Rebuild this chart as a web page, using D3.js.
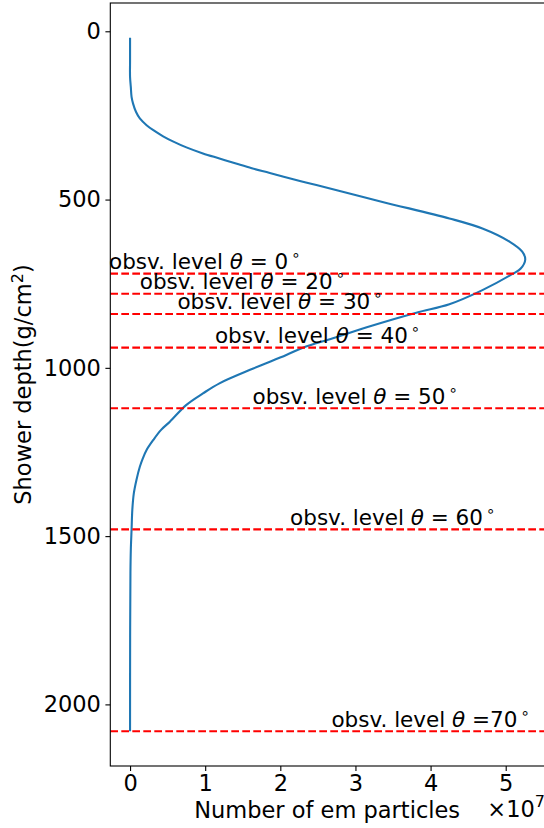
<!DOCTYPE html>
<html>
<head>
<meta charset="utf-8">
<script src="https://cdn.jsdelivr.net/npm/d3@7"></script>
<style>
  html, body { margin: 0; padding: 0; background: #fff; }
  svg { display: block; font-family: "DejaVu Sans", sans-serif; }
</style>
</head>
<body>
<svg id="chart" width="544" height="828"></svg>
<script>
// Longitudinal profile: shower depth (g/cm^2) vs number of em particles (x 10^7)
const depth = [19, 86, 136, 165, 195, 215, 240, 259, 279, 294, 312, 327, 345, 363, 378, 393, 407, 421, 442, 457, 507, 556, 586, 625, 655, 678, 705, 721, 769, 811, 836, 880, 912, 940, 962, 1002, 1046, 1076, 1110, 1160, 1185, 1214, 1244, 1269, 1294, 1333, 1373, 1422, 1482, 1541, 1610, 1800, 2080];
const particles = [0.0, 0.0, 0.0, 0.01, 0.02, 0.04, 0.08, 0.13, 0.22, 0.31, 0.44, 0.57, 0.75, 0.97, 1.19, 1.41, 1.62, 1.86, 2.21, 2.48, 3.36, 4.25, 4.69, 5.05, 5.22, 5.26, 5.20, 5.09, 4.69, 4.25, 3.81, 3.14, 2.70, 2.30, 2.08, 1.64, 1.19, 0.97, 0.75, 0.53, 0.41, 0.31, 0.22, 0.17, 0.13, 0.085, 0.05, 0.03, 0.02, 0.01, 0.005, 0.001, 0.0];

// Observation levels for each zenith angle
const levelAngles = [0, 20, 30, 40, 50, 60, 70];
const levelDepths = [720, 780, 840, 940, 1120, 1480, 2080];
const levelLabelX = [-0.28, 0.13, 0.63, 1.13, 1.63, 2.13, 2.68];
const levelEq = [" = ", " = ", " = ", " = ", " = ", " = ", " ="];

const xTicks = [0, 1, 2, 3, 4, 5];
const yTicks = [0, 500, 1000, 1500, 2000];

const svg = d3.select("#chart");
const plotLeft = 110.3, plotRight = 545, plotTop = 3, plotBottom = 766;

// Data limits with 5% margins on each side
const xMin = 0, xMax = d3.max(particles);
const yMin = d3.min(depth), yMax = d3.max(levelDepths.concat(depth));
const xPad = (xMax - xMin) * 0.05, yPad = (yMax - yMin) * 0.05;

const x = d3.scaleLinear().domain([xMin - xPad, xMax + xPad]).range([plotLeft, plotRight]);
const y = d3.scaleLinear().domain([yMin - yPad, yMax + yPad]).range([plotTop, plotBottom]);

svg.append("defs").append("clipPath").attr("id", "plotclip")
  .append("rect").attr("x", plotLeft).attr("y", plotTop)
  .attr("width", plotRight - plotLeft).attr("height", plotBottom - plotTop);

const plot = svg.append("g").attr("clip-path", "url(#plotclip)");

// Profile curve
const line = d3.line()
  .x((d, i) => x(particles[i]))
  .y(d => y(d))
  .curve(d3.curveCatmullRom.alpha(0.5));

plot.append("path")
  .datum(depth)
  .attr("d", line)
  .attr("fill", "none")
  .attr("stroke", "#1f77b4")
  .attr("stroke-width", 2.1)
  .attr("stroke-linejoin", "round")
  .attr("stroke-linecap", "butt");

// Dashed observation levels
plot.selectAll("line.level")
  .data(levelDepths)
  .enter().append("line")
  .attr("class", "level")
  .attr("x1", plotLeft).attr("x2", plotRight)
  .attr("y1", d => y(d)).attr("y2", d => y(d))
  .attr("stroke", "#ff0000")
  .attr("stroke-width", 2.1)
  .attr("stroke-dasharray", "7.7 3.3");

// Level labels
const labels = svg.selectAll("text.level")
  .data(levelAngles)
  .enter().append("text")
  .attr("class", "level")
  .attr("x", (d, i) => x(levelLabelX[i]))
  .attr("y", (d, i) => y(levelDepths[i]) - 4.5)
  .attr("font-size", 21.5)
  .attr("fill", "#000");
labels.append("tspan").text("obsv. level ");
labels.append("tspan").attr("font-style", "italic").text("θ");
labels.append("tspan").text((d, i) => levelEq[i] + d);
labels.append("tspan").attr("dx", 3).attr("dy", -9).attr("font-size", 15).text("∘");

// Axes
const xAxis = svg.append("g")
  .attr("transform", `translate(0,${plotBottom})`)
  .call(d3.axisBottom(x).tickValues(xTicks).tickFormat(d3.format("d")).tickSize(4.9).tickPadding(4.5));
const yAxis = svg.append("g")
  .attr("transform", `translate(${plotLeft},0)`)
  .call(d3.axisLeft(y).tickValues(yTicks).tickFormat(d3.format("d")).tickSize(4.9).tickPadding(4.5));

[xAxis, yAxis].forEach(g => {
  g.select(".domain").remove();
  g.selectAll(".tick line").attr("stroke", "#000").attr("stroke-width", 1.1);
  g.selectAll(".tick text").attr("fill", "#000").attr("font-size", 22.5)
    .attr("font-family", "DejaVu Sans, sans-serif");
});

// Spines
svg.append("rect")
  .attr("x", plotLeft).attr("y", plotTop)
  .attr("width", plotRight - plotLeft).attr("height", plotBottom - plotTop)
  .attr("fill", "none").attr("stroke", "#000").attr("stroke-width", 1.1);

// Axis labels
svg.append("text")
  .attr("x", (plotLeft + plotRight) / 2 - 0.5).attr("y", 818)
  .attr("text-anchor", "middle")
  .attr("font-size", 22.5)
  .text("Number of em particles");

const yl = svg.append("text")
  .attr("transform", `translate(31,${(plotTop + plotBottom) / 2}) rotate(-90)`)
  .attr("text-anchor", "middle")
  .attr("font-size", 22.5);
yl.append("tspan").text("Shower depth(g/cm");
yl.append("tspan").attr("dy", -8).attr("font-size", 16).text("2");
yl.append("tspan").attr("dy", 8).text(")");

// Offset text for the x axis
const off = svg.append("text")
  .attr("x", plotRight).attr("y", 817)
  .attr("text-anchor", "end")
  .attr("font-size", 22.5);
off.append("tspan").text("×10");
off.append("tspan").attr("dy", -10).attr("font-size", 16).text("7");
</script>
</body>
</html>
